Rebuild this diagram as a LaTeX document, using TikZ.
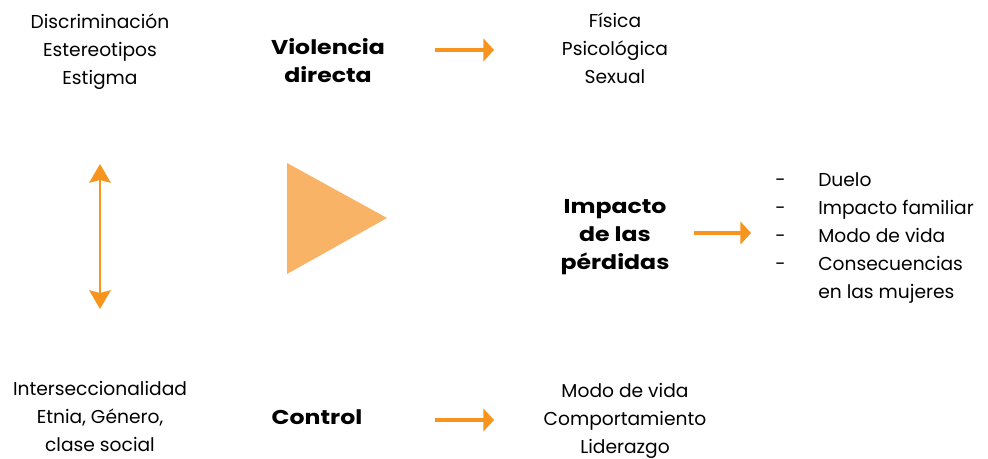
\documentclass[tikz,border=0pt]{standalone}
\usepackage{fontspec}
\setmainfont{Poppins}
\newfontfamily\wideb{Poppins}[FakeStretch=1.18, UprightFont=* Bold, BoldFont=* Bold]
\usetikzlibrary{arrows.meta}
\definecolor{orangeA}{HTML}{F7941D}
\definecolor{orangeB}{HTML}{F8B367}
\tikzset{
  txt/.style={align=center, font=\fontsize{14}{21}\selectfont, inner sep=0pt},
  btxt/.style={txt, font=\fontsize{15}{21}\selectfont\wideb},
  ltxt/.style={txt, anchor=west, text height=10.5pt, text depth=3pt},
  arr/.style={draw=orangeA, line width=3.2pt, -{Triangle[length=8pt,width=17pt]}},
  darr/.style={draw=orangeA, line width=2pt, {Stealth[length=14pt,width=16pt,inset=2pt]}-{Stealth[length=14pt,width=16pt,inset=2pt]}},
}
\begin{document}
\begin{tikzpicture}[x=0.75pt,y=-0.75pt]
\useasboundingbox (0,0) rectangle (988,459);
\node[txt] (t1) at (100,52) {Discriminación\\Estereotipos\\Estigma};
\node[btxt] (v) at (328,61) {Violencia\\directa};
\node[txt] (t2) at (615,48) {Física\\Psicológica\\Sexual};
\coordinate (a1s) at (435,50); \coordinate (a1e) at (494,50);
\draw[arr] (a1s) -- (a1e);
\coordinate (ds) at (100,164); \coordinate (de) at (100,309);
\draw[darr] (ds) -- (de);
\fill[orangeB] (287,163) -- (387,218) -- (287,274) -- cycle;
\node[btxt] (ip) at (615,237) {Impacto\\de las\\pérdidas};
\coordinate (a2s) at (694,233); \coordinate (a2e) at (751,233);
\draw[arr] (a2s) -- (a2e);
\node[ltxt] (d1) at (775,182) {-};
\node[ltxt] (d2) at (775,210) {-};
\node[ltxt] (d3) at (775,238) {-};
\node[ltxt] (d4) at (775,266) {-};
\node[ltxt] (l1) at (818,182) {Duelo};
\node[ltxt] (l2) at (818,210) {Impacto familiar};
\node[ltxt] (l3) at (818,238) {Modo de vida};
\node[ltxt] (l4) at (818,266) {Consecuencias};
\node[ltxt] (l5) at (818,294) {en las mujeres};
\node[txt] (t3) at (100,416) {Interseccionalidad\\Etnia, Género,\\clase social};
\node[btxt] (c) at (317,417) {Control};
\coordinate (a3s) at (435,420); \coordinate (a3e) at (494,420);
\draw[arr] (a3s) -- (a3e);
\node[txt] (t4) at (625,421) {Modo de vida\\Comportamiento\\Liderazgo};
\end{tikzpicture}
\end{document}
